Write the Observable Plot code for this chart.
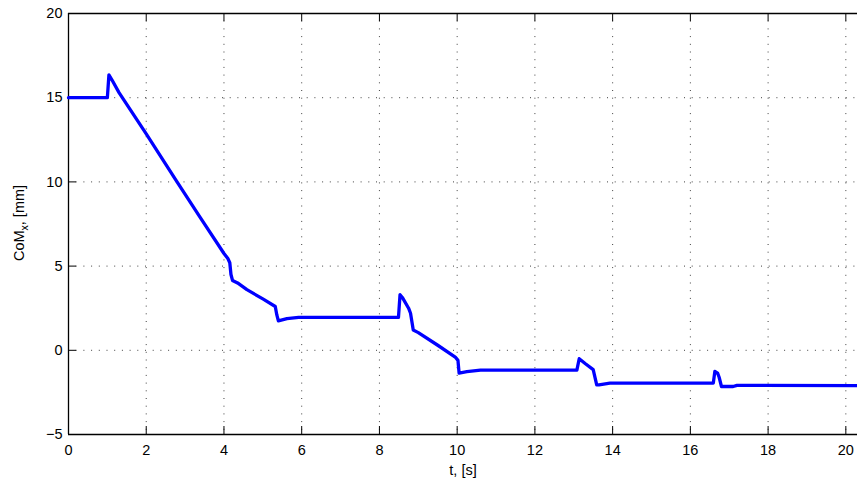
<!DOCTYPE html>
<html>
<head>
<meta charset="utf-8">
<script src="https://cdn.jsdelivr.net/npm/d3@7"></script>
<script src="https://cdn.jsdelivr.net/npm/@observablehq/plot@0.6"></script>
<style>
  html, body { margin: 0; padding: 0; background: #fff; }
  svg { display: block; }
</style>
</head>
<body>
<div id="chart"></div>
<script>
const timeS = [0, 1.0, 1.04, 1.12, 1.3, 2.0, 2.78, 3.4, 4.0, 4.1, 4.15, 4.18, 4.22, 4.35, 4.59, 5.0, 5.32, 5.36, 5.4, 5.62, 5.92, 8.49, 8.53, 8.6, 8.75, 8.8, 8.87, 9.0, 9.5, 9.95, 10.02, 10.05, 10.25, 10.6, 13.08, 13.14, 13.3, 13.5, 13.59, 13.65, 13.93, 16.59, 16.63, 16.7, 16.74, 16.8, 17.1, 17.2, 20.3];
const comX = [15, 15, 16.35, 16.05, 15.3, 12.85, 10.05, 7.85, 5.75, 5.45, 5.2, 4.5, 4.15, 4.0, 3.6, 3.05, 2.6, 2.1, 1.75, 1.88, 1.95, 1.95, 3.3, 3.1, 2.5, 2.2, 1.2, 1.05, 0.3, -0.4, -0.6, -1.35, -1.27, -1.18, -1.18, -0.5, -0.8, -1.15, -2.05, -2.05, -1.95, -1.95, -1.25, -1.35, -1.6, -2.15, -2.15, -2.08, -2.1];
const xTicks = [0, 2, 4, 6, 8, 10, 12, 14, 16, 18, 20];
const yTicks = [-5, 0, 5, 10, 15, 20];
const xDomain = [0, 20.3];
const yDomain = [-5, 20];

const data = timeS.map((t, i) => ({t, v: comX[i]}));
const font = "Liberation Sans, Arial, Helvetica, sans-serif";

const W = 857, H = 481, mL = 68, mT = 13, mB = 47, mR = 0;
const plotW = W - mL - mR, plotH = H - mT - mB, tick = 8;
// tick length converted to data units
const tickY = tick * (yDomain[1] - yDomain[0]) / plotH;
const tickX = tick * (xDomain[1] - xDomain[0]) / plotW;

const chart = Plot.plot({
  width: W,
  height: H,
  marginLeft: mL,
  marginTop: mT,
  marginBottom: mB,
  marginRight: mR,
  style: {fontFamily: font, fontSize: "14.5px", color: "#000", background: "#fff"},
  x: {domain: xDomain, label: null},
  y: {domain: yDomain, label: null},
  marks: [
    Plot.ruleX(xTicks.filter(d => d > 0), {stroke: "#000", strokeOpacity: 0.75, strokeDasharray: "1,6.7", strokeWidth: 1}),
    Plot.ruleY(yTicks.filter(d => d > -5 && d < 20), {stroke: "#000", strokeOpacity: 0.75, strokeDasharray: "1,6.7", strokeWidth: 1}),
    // inward ticks (bottom, top, left)
    Plot.ruleX(xTicks, {x: d => d, y1: () => yDomain[0], y2: () => yDomain[0] + tickY, stroke: "#000", strokeWidth: 1}),
    Plot.ruleX(xTicks, {x: d => d, y1: () => yDomain[1] - tickY, y2: () => yDomain[1], stroke: "#000", strokeWidth: 1}),
    Plot.ruleY(yTicks, {y: d => d, x1: () => xDomain[0], x2: () => xDomain[0] + tickX, stroke: "#000", strokeWidth: 1}),
    Plot.axisX(xTicks, {anchor: "bottom", tickSize: 0, tickPadding: 10.4, fill: "#000", fontSize: 14.5, label: null}),
    Plot.axisY(yTicks, {anchor: "left", tickSize: 0, tickPadding: 6, fill: "#000", fontSize: 14.5, label: null}),
    Plot.ruleY([-5, 20], {stroke: "#000", strokeWidth: 1.3}),
    Plot.ruleX([0], {stroke: "#000", strokeWidth: 1.3}),
    Plot.line(data, {x: "t", y: "v", stroke: "#0000ff", strokeWidth: 3.3, strokeLinejoin: "round", curve: "linear"})
  ]
});

document.getElementById("chart").appendChild(chart);

// Axis titles (with subscript) added as real SVG text
const svg = d3.select(chart);
svg.append("text")
  .attr("x", 463).attr("y", 475)
  .attr("text-anchor", "middle")
  .attr("font-family", font).attr("font-size", 14.5).attr("fill", "#000")
  .text("t, [s]");
const yl = svg.append("text")
  .attr("transform", "translate(24,223) rotate(-90)")
  .attr("text-anchor", "middle")
  .attr("font-family", font).attr("font-size", 14.5).attr("fill", "#000");
yl.append("tspan").text("CoM");
yl.append("tspan").attr("font-size", 10.5).attr("dy", 4).text("x");
yl.append("tspan").attr("dy", -4).text(", [mm]");
</script>
</body>
</html>
